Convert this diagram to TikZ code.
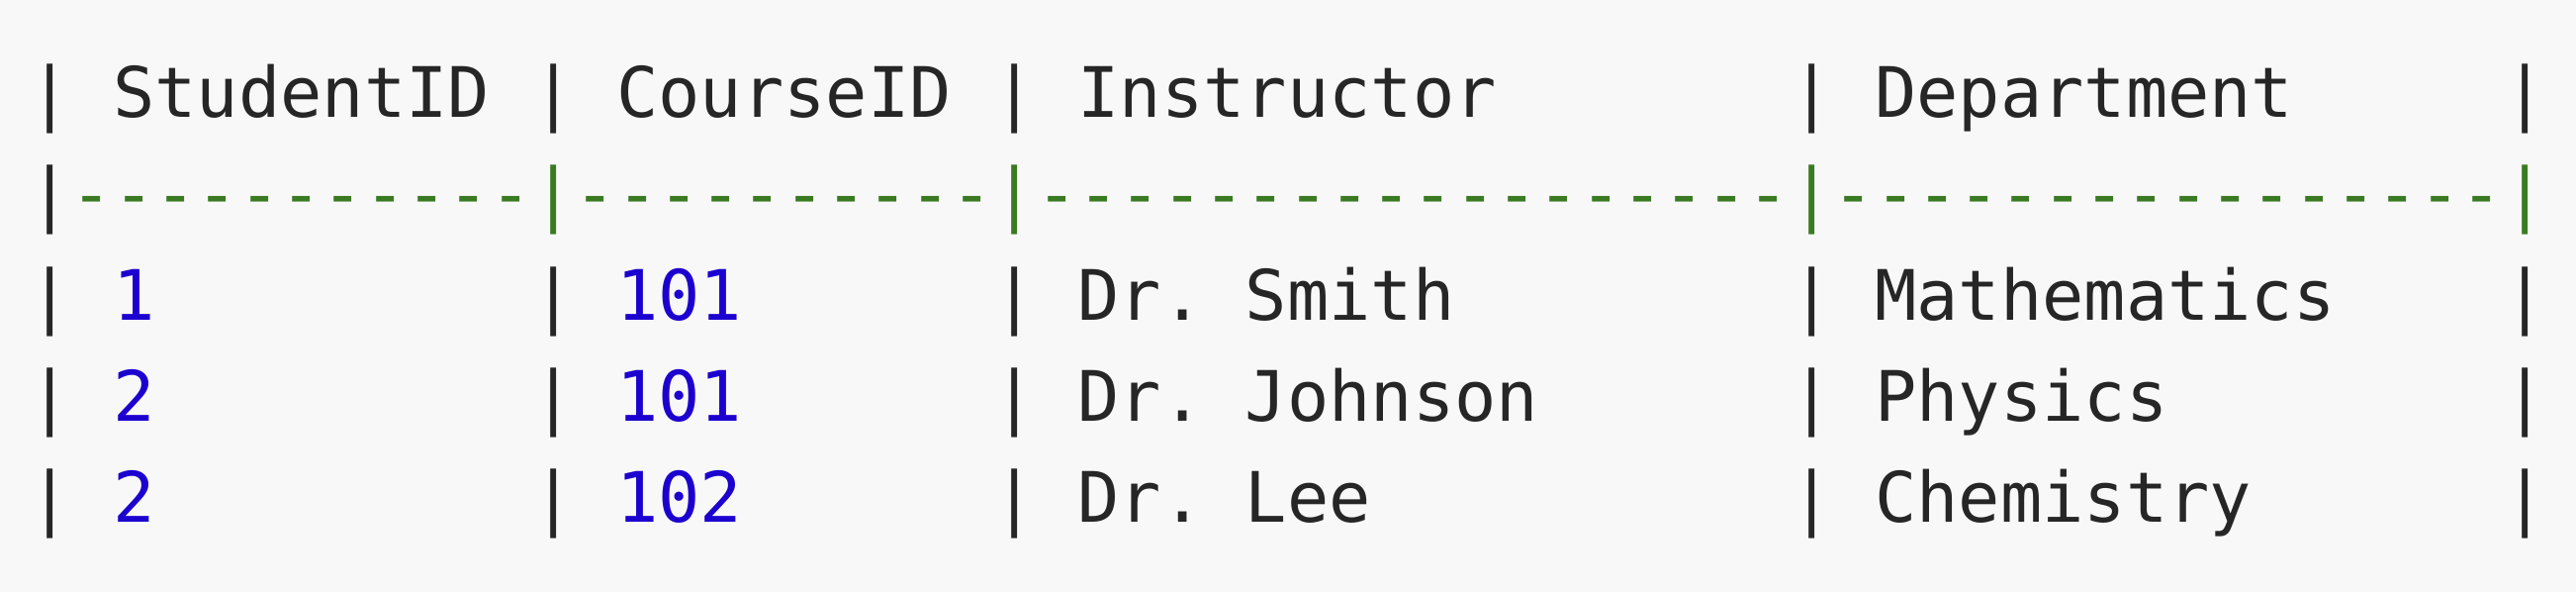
\documentclass[tikz,border=0pt]{standalone}
\usepackage{fontspec}
\setmonofont{DejaVu Sans Mono}
\usepackage{tikz}

\definecolor{codebg}{HTML}{F8F8F8}
\definecolor{codefg}{HTML}{262626}
\definecolor{codenum}{HTML}{1C00CF}
\definecolor{coderule}{HTML}{3A7A22}

\tikzset{
  cell/.style={anchor=base west,inner sep=0pt,text=codefg,
    font=\ttfamily\fontsize{20}{24}\selectfont},
  num/.style={cell,text=codenum},
  rule/.style={cell,text=coderule}
}

\begin{document}
\begin{tikzpicture}[x=0.1mm,y=-0.1mm]
    \fill[codebg] (0,0) rectangle (2604,598);
    \useasboundingbox (0,0) rectangle (2604,598);
    % column c starts at 28.8+42.4*c
    \foreach \r/\y in {1/119,3/324,4/426,5/528}{
    \foreach \c/\k in {0/a,12/b,23/c,42/d,59/e}{
    \node[cell] (bar\r\k) at (28.8+42.4*\c,\y) {|};}}
    \node[cell] (bar2a) at (28.8,221) {|};
    \foreach \c/\k in {12/b,23/c,42/d,59/e}
    \node[rule] (bar2\k) at (28.8+42.4*\c,221) {|};
    % header
    \node[cell] (student) at (113.6,119) {StudentID};
    \node[cell] (course) at (622.4,119) {CourseID};
    \node[cell] (instructor) at (1088.8,119) {Instructor};
    \node[cell] (department) at (1894.4,119) {Department};
    % separator
    \node[rule] (sep1) at (71.2,221) {-----------};
    \node[rule] (sep2) at (580,221) {----------};
    \node[rule] (sep3) at (1046.4,221) {------------------};
    \node[rule] (sep4) at (1852,221) {----------------};
    % rows
    \foreach \r/\y/\sid/\cid/\ins/\dep in {
    3/324/1/101/Dr. Smith/Mathematics,
    4/426/2/101/Dr. Johnson/Physics,
    5/528/2/102/Dr. Lee/Chemistry}{
    \node[num] (sid\r) at (113.6,\y) {\sid};
    \node[num] (cid\r) at (622.4,\y) {\cid};
    \node[cell] (ins\r) at (1088.8,\y) {\ins};
    \node[cell] (dep\r) at (1894.4,\y) {\dep};}
\end{tikzpicture}
\end{document}
